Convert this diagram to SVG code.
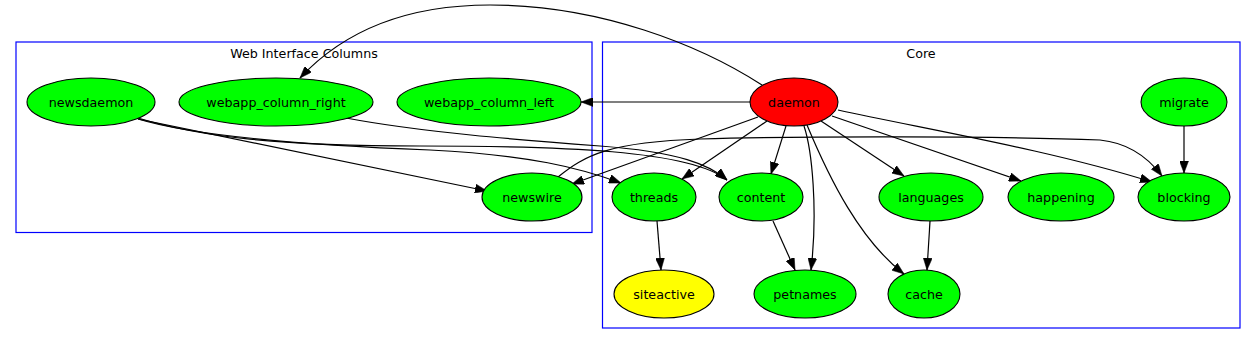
<svg xmlns="http://www.w3.org/2000/svg" width="1256" height="345" viewBox="0 0 1256 345">
<style>
.cl{fill:none;stroke:#0000ff;stroke-width:1.2}
.n{stroke:#000;stroke-width:1.1;fill:#00ff00}
.t{font-family:"DejaVu Sans",sans-serif;font-size:12.7px;text-anchor:middle;fill:#000}
.e{fill:none;stroke:#000;stroke-width:1.2;marker-end:url(#ah)}
</style>
<defs>
<marker id="ah" viewBox="0 0 12 9" refX="12" refY="4.5" markerWidth="12" markerHeight="9" markerUnits="userSpaceOnUse" orient="auto">
<path d="M0,0 L12,4.5 L0,9 z" fill="#000" stroke="#000" stroke-width="0.5"/>
</marker>
</defs>
<rect width="1256" height="345" fill="#fff"/>
<g id="cluster_web">
<rect class="cl" x="16" y="42" width="576" height="190.5"/>
<text class="t" x="304" y="57.5">Web Interface Columns</text>
</g>
<g id="cluster_core">
<rect class="cl" x="602.5" y="42" width="637.5" height="286"/>
<text class="t" x="921" y="57.5">Core</text>
</g>
<g id="edges">
<path class="e" d="M762,85 C700,45 600,5 490,5 C400,5 340,35 300,78"/>
<path class="e" d="M751,102 L581,102"/>
<path class="e" d="M758,117 L572,184"/>
<path class="e" d="M767,121 L682,179"/>
<path class="e" d="M786,126 L771,174"/>
<path class="e" d="M804,126 C812,150 818,210 811,270"/>
<path class="e" d="M807,125 C830,180 860,240 904,274"/>
<path class="e" d="M821,121 L904,176"/>
<path class="e" d="M832,116 L1021,181"/>
<path class="e" d="M838,110 C930,130 1050,150 1152,182"/>
<path class="e" d="M1184,126 L1184,173"/>
<path class="e" d="M657,221 L661,270"/>
<path class="e" d="M773,221 L795,270"/>
<path class="e" d="M930,221 L927,270"/>
<path class="e" d="M558,177 C585,155 610,142 700,139 C800,136 1000,136 1100,140 C1130,143 1150,160 1162,176"/>
<path class="e" d="M138,119 L487,191"/>
<path class="e" d="M138,119 C200,138 330,146 430,150 C530,155 580,168 621,183"/>
<path class="e" d="M138,118 C200,137 280,146 420,146 C560,146 690,150 727,180"/>
<path class="e" d="M346,118 C420,132 520,140 600,146 C680,152 710,165 727,180"/>
</g>
<g id="newsdaemon"><ellipse class="n" cx="91" cy="102" rx="64" ry="24"/><text class="t" x="91" y="106.5">newsdaemon</text></g>
<g id="webapp_column_right"><ellipse class="n" cx="276" cy="102" rx="97" ry="24"/><text class="t" x="276" y="106.5">webapp_column_right</text></g>
<g id="webapp_column_left"><ellipse class="n" cx="489" cy="102" rx="92" ry="24"/><text class="t" x="489" y="106.5">webapp_column_left</text></g>
<g id="newswire"><ellipse class="n" cx="532" cy="197" rx="50" ry="24"/><text class="t" x="532" y="201.5">newswire</text></g>
<g id="daemon"><ellipse class="n" cx="794" cy="102" rx="44" ry="24" style="fill:#ff0000"/><text class="t" x="794" y="106.5">daemon</text></g>
<g id="migrate"><ellipse class="n" cx="1184" cy="102" rx="43" ry="24"/><text class="t" x="1184" y="106.5">migrate</text></g>
<g id="threads"><ellipse class="n" cx="654" cy="197" rx="42" ry="24"/><text class="t" x="654" y="201.5">threads</text></g>
<g id="content"><ellipse class="n" cx="761" cy="197" rx="42" ry="24"/><text class="t" x="761" y="201.5">content</text></g>
<g id="languages"><ellipse class="n" cx="931" cy="197" rx="52" ry="24"/><text class="t" x="931" y="201.5">languages</text></g>
<g id="happening"><ellipse class="n" cx="1061" cy="197" rx="53" ry="24"/><text class="t" x="1061" y="201.5">happening</text></g>
<g id="blocking"><ellipse class="n" cx="1184" cy="197" rx="46" ry="24"/><text class="t" x="1184" y="201.5">blocking</text></g>
<g id="siteactive"><ellipse class="n" cx="664" cy="294" rx="50" ry="24" style="fill:#ffff00"/><text class="t" x="664" y="298.5">siteactive</text></g>
<g id="petnames"><ellipse class="n" cx="805" cy="294" rx="51" ry="24"/><text class="t" x="805" y="298.5">petnames</text></g>
<g id="cache"><ellipse class="n" cx="924" cy="294" rx="36" ry="24"/><text class="t" x="924" y="298.5">cache</text></g>
</svg>
